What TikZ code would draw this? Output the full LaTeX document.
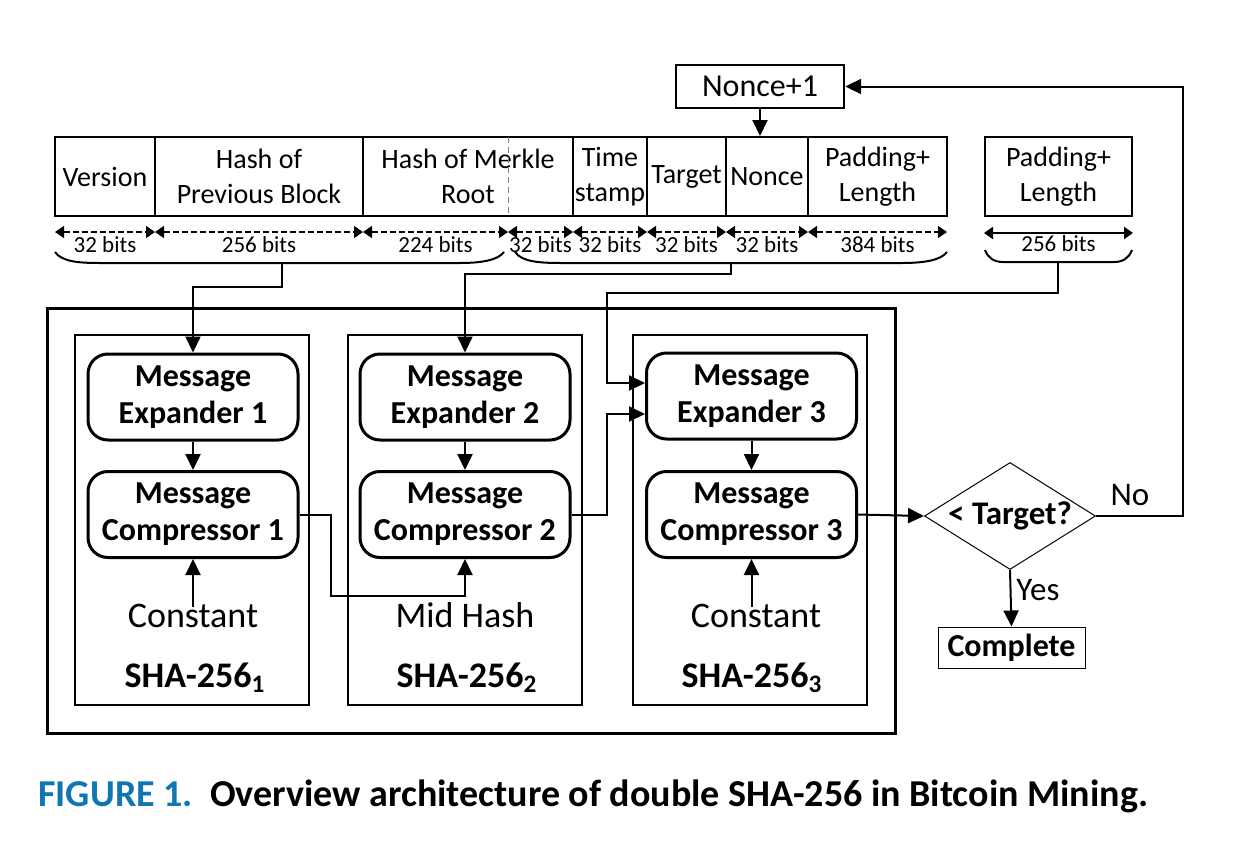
\documentclass[tikz,border=0pt]{standalone}
\usepackage{fontspec}
\setmainfont{Carlito}
\usetikzlibrary{arrows.meta,shapes.geometric,calc}
\definecolor{capblue}{RGB}{16,118,178}

\begin{document}
\begin{tikzpicture}[
        x=0.5pt, y=-0.5pt,
        field/.style={draw, line width=1pt, minimum height=39.5pt, inner sep=0pt, align=center, font=\fontsize{14}{17.5}\selectfont},
        bits/.style={dashed, dash pattern=on 3pt off 1.5pt, line width=0.7pt, {Triangle[length=4.5pt,width=6pt]}-{Triangle[length=4.5pt,width=6pt]}},
        bitlabel/.style={font=\fontsize{11.5}{13}\selectfont, inner sep=0pt},
        brace/.style={line width=1pt},
        unit/.style={draw, fill=white, line width=1.5pt, rounded corners=10pt, minimum width=105pt, minimum height=43pt, align=center, inner sep=0pt, font=\fontsize{16}{18.5}\selectfont\bfseries},
        core/.style={draw, line width=1pt, minimum width=117pt, minimum height=185pt},
        plain/.style={inner sep=0pt, font=\fontsize{18}{21}\selectfont},
        shaname/.style={inner sep=0pt, font=\fontsize{18}{21}\selectfont\bfseries},
        arr/.style={line width=1pt, -{Triangle[length=8pt,width=7.5pt]}},
        wire/.style={line width=1pt}
    ]
    \useasboundingbox (0,0) rectangle (1243,841);

    % block header
    \node[field, minimum width=50pt] (ver) at (105,176.5) {Version};
    \node[field, minimum width=104pt] (prev) at (259,176.5) {Hash of\\Previous Block};
    \node[field, minimum width=105pt] (mrk) at (468,176.5) {Hash of Merkle\\Root};
    \node[field, minimum width=37pt] (tim) at (610,176.5) {Time\\stamp};
    \node[field, minimum width=39.5pt] (tgt) at (686.5,176.5) {Target};
    \node[field, minimum width=41pt] (non) at (767,176.5) {Nonce};
    \node[field, minimum width=69.5pt] (pad) at (877.5,176.5) {Padding+\\Length};
    \coordinate (split) at (508,137);
    \draw[densely dashed, gray, line width=0.5pt] (split) -- (split |- mrk.south);

    \foreach \a/\b/\t in {55/155/32, 155/363/256, 363/508/224, 508/573/32, 573/647/32, 647/726/32, 726/808/32, 808/947/384} {
        \draw[bits] (\a,232) -- (\b,232);
        \node[bitlabel] (bl\a) at ({(\a+\b)/2},245) {\t\ bits};
    }

    \node[field, minimum width=73.5pt] (pad2) at (1058.5,176.5) {Padding+\\Length};
    \draw[line width=1pt, {Triangle[length=4.5pt,width=6pt]}-{Triangle[length=4.5pt,width=6pt]}]
        ([yshift=-8pt]pad2.south west) -- ([yshift=-8pt]pad2.south east);
    \node[bitlabel] (bl2) at (1058.5,244) {256 bits};

    % braces
    \draw[brace] (55,252) .. controls (62,262) and (80,263) .. (100,263) -- (460,263) .. controls (482,263) and (498,260) .. (504,252);
    \draw[brace] (515,252) .. controls (522,262) and (540,263) .. (562,263) -- (902,263) .. controls (925,263) and (941,260) .. (947,252);
    \draw[brace] (985,250) .. controls (988,258) and (994,262) .. (1003,262) -- (1114,262) .. controls (1123,262) and (1129,258) .. (1132,250);
    \coordinate (hdr1) at (282,263);
    \coordinate (hdr2) at (731,263);
    \coordinate (hdr3) at (1058,262);

    % nonce update
    \node[draw, line width=1.2pt, minimum width=84pt, minimum height=21.5pt, inner sep=0pt, font=\fontsize{16}{19}\selectfont] (inc) at (760,86.5) {Nonce+1};
    \draw[arr] (inc.south) -- (inc.south |- non.north);

    % double sha-256
    \node[draw, line width=1.5pt, minimum width=424pt, minimum height=212.5pt] (miner) at (471,520.5) {};
    \node[core] (sha1) at (192,520) {};
    \node[core] (sha2) at (464.5,520) {};
    \node[core] (sha3) at (749.5,520) {};

    \node[unit] (exp1) at (193,397) {Message\\Expander 1};
    \node[unit] (cmp1) at (193,514.5) {Message\\Compressor 1};
    \node[unit] (exp2) at (465,397) {Message\\Expander 2};
    \node[unit] (cmp2) at (465,514.5) {Message\\Compressor 2};
    \node[unit] (exp3) at (751.5,396) {Message\\Expander 3};
    \node[unit] (cmp3) at (751.5,514.5) {Message\\Compressor 3};

    \node[plain, anchor=base] (cst1) at (193,627) {Constant};
    \node[plain, anchor=base] (mid) at (465,627) {Mid Hash};
    \node[plain, anchor=base] (cst3) at (756,627) {Constant};
    \node[shaname, anchor=base] (lbl1) at (195,687) {SHA-256\textsubscript{1}};
    \node[shaname, anchor=base] (lbl2) at (467,687) {SHA-256\textsubscript{2}};
    \node[shaname, anchor=base] (lbl3) at (752,687) {SHA-256\textsubscript{3}};

    \draw[arr] (exp1) -- (cmp1);
    \draw[arr] (exp2) -- (cmp2);
    \draw[arr] (exp3) -- (cmp3);
    \draw[arr] ([yshift=-2pt]cst1.north) -- (cmp1.south);
    \draw[arr] ([yshift=-2pt]cst3.north -| cmp3.south) -- (cmp3.south);

    \coordinate (in3a) at ($(exp3.west)+(0,-13)$);
    \coordinate (in3b) at ($(exp3.west)+(0,18)$);
    \draw[arr] (hdr1) -- ++(0,24) -| (exp1.north);
    \draw[arr] (hdr2) -- ++(0,11) -| (exp2.north);
    \draw[arr] (hdr3) -- ++(0,31) -| ($(in3a)+(-38,0)$) -- (in3a);
    \draw[arr] (cmp1.east) -- ++(31,0) |- ($(cmp2.south)+(0,37)$) -- (cmp2.south);
    \draw[arr] (cmp2.east) -| ($(in3b)+(-38,0)$) -- (in3b);

    % target check
    \node[draw, diamond, aspect=1.6, line width=0.5pt, minimum width=85.5pt, minimum height=53.5pt, inner sep=0pt, font=\fontsize{16.5}{19}\selectfont\bfseries] (test) at (1010,516) {< Target?};
    \node[draw, line width=0.5pt, minimum width=73.5pt, minimum height=20.5pt, inner sep=0pt, font=\fontsize{16}{19}\selectfont\bfseries] (done) at (1011.5,647.5) {Complete};
    \draw[arr] (cmp3.east) -- (test.west);
    \draw[arr] (test.south) -- (done.north);
    \draw[arr] (test.east) -- ++(87,0) |- (inc.east);
    \node[plain, font=\fontsize{16.5}{19}\selectfont] (no) at (1130,495) {No};
    \node[plain, font=\fontsize{16.5}{19}\selectfont, anchor=west] (yes) at (1016,590) {Yes};

    \node[anchor=base west, inner sep=0pt, font=\fontsize{19}{23}\selectfont\bfseries] (cap) at (38,806)
        {\textcolor{capblue}{FIGURE 1.}\hspace{0.45em}Overview architecture of double SHA-256 in Bitcoin Mining.};
\end{tikzpicture}
\end{document}
